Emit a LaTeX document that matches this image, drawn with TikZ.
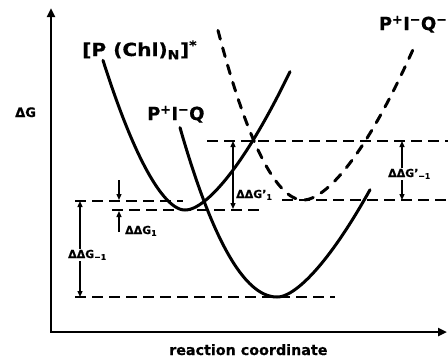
\documentclass[tikz,border=0pt]{standalone}
\usepackage{fontspec}
\setmainfont{DejaVu Sans}[BoldFeatures={FakeBold=0.6}]
\newfontfamily\widefont[FakeStretch=1.12,BoldFeatures={FakeBold=0.6}]{DejaVu Sans}
\usetikzlibrary{arrows.meta}
\begin{document}
\begin{tikzpicture}[x=1pt,y=-1pt,
  axis/.style={line width=2.4pt, {Triangle[length=9pt,width=8pt]}-{Triangle[length=9pt,width=8pt]}},
  curve/.style={line width=3pt, line join=round, line cap=round},
  dcurve/.style={line width=3pt, line cap=round, dash pattern=on 9pt off 9pt},
  level/.style={line width=1.1pt, dash pattern=on 11pt off 6pt},
  dim/.style={line width=1.3pt, {Triangle[length=6pt,width=5pt]}-{Triangle[length=6pt,width=5pt]}},
  half/.style={line width=1.3pt, -{Triangle[length=6pt,width=5pt]}},
  big/.style={font=\bfseries\fontsize{18}{20}\selectfont, inner sep=0pt, anchor=base west},
  mid/.style={font=\bfseries\fontsize{13}{15}\selectfont, inner sep=0pt, anchor=base west},
  small/.style={font=\bfseries\fontsize{11}{13}\selectfont, inner sep=0pt, anchor=base west},
  lab/.style={small, fill=white, inner sep=1pt}
]
\useasboundingbox (0,0) rectangle (448,360);
% axes
\coordinate (top) at (51,8);
\coordinate (origin) at (51,332);
\coordinate (right) at (447,332);
\draw[axis] (top) -- (origin) -- (right);
% level lines
\coordinate (l1a) at (75,201);  \coordinate (l1b) at (183,201);
\coordinate (l2a) at (112,210); \coordinate (l2b) at (259,210);
\coordinate (l3a) at (75,297);  \coordinate (l3b) at (335,297);
\coordinate (l4a) at (207,141); \coordinate (l4b) at (448,141);
\coordinate (l5a) at (282,200); \coordinate (l5b) at (448,200);
\draw[level] (l1a) -- (l1b);
\draw[level] (l2a) -- (l2b);
\draw[level] (l3a) -- (l3b);
\draw[level] (l4a) -- (l4b);
\draw[level] (l5a) -- (l5b);
% curves: [P(Chl)N]*
\draw[curve] plot[domain=103:185, samples=50] (\x, {210 - 0.0848*(pow((185-\x)^2+100,0.85)-pow(100,0.85))})
  -- plot[domain=185:290, samples=50] (\x, {210 - 0.1089*(pow((\x-185)^2+100,0.77)-pow(100,0.77))});
% P+I-Q
\draw[curve] plot[domain=180:277, samples=50] (\x, {297 - 0.018*(277-\x)^2})
  -- plot[domain=277:370, samples=50] (\x, {297 - 0.112*(pow((\x-277)^2+100,0.76)-pow(100,0.76))});
% P+I-Q- (dashed)
\draw[dcurve] plot[domain=218:303, samples=50] (\x, {200 - 0.0351*(pow((303-\x)^2+64,0.955)-pow(64,0.955))})
  -- plot[domain=303:415, samples=50] (\x, {200 - 0.0789*(pow((\x-303)^2+100,0.805)-pow(100,0.805))});
% dimension arrows
\coordinate (g1s) at (119,180); \coordinate (g1e) at (119,200);
\coordinate (g2s) at (119,232); \coordinate (g2e) at (119,211);
\draw[half] (g1s) -- (g1e);
\draw[half] (g2s) -- (g2e);
\coordinate (gm1a) at (80,201); \coordinate (gm1b) at (80,297);
\draw[dim] (gm1a) -- (gm1b);
\coordinate (gp1a) at (233,141); \coordinate (gp1b) at (233,209);
\draw[dim] (gp1a) -- (gp1b);
\coordinate (gpm1a) at (402,141); \coordinate (gpm1b) at (402,200);
\draw[dim] (gpm1a) -- (gpm1b);
% labels
\node[big, font=\widefont\bfseries\fontsize{18}{20}\selectfont] (lab1) at (82,56) {[P (Chl)\textsubscript{N}]\textsuperscript{*}};
\node[big] (lab2) at (147,120) {P\textsuperscript{+}I\textsuperscript{−}Q};
\node[big, anchor=base east] (lab3) at (447.5,30) {P\textsuperscript{+}I\textsuperscript{−}Q\textsuperscript{−}};
\node[mid] (dg) at (15,117) {ΔG};
\node[mid, font=\bfseries\fontsize{14.3}{16}\selectfont] (rc) at (169,355) {reaction coordinate};
\node[small] (t1) at (125,234) {ΔΔG\textsubscript{1}};
\node[lab, anchor=base west] (t2) at (67,258) {ΔΔG\textsubscript{−1}};
\node[small] (t3) at (236,198) {ΔΔG’\textsubscript{1}};
\node[lab, anchor=base west] (t4) at (387,177) {ΔΔG’\textsubscript{−1}};
\end{tikzpicture}
\end{document}
